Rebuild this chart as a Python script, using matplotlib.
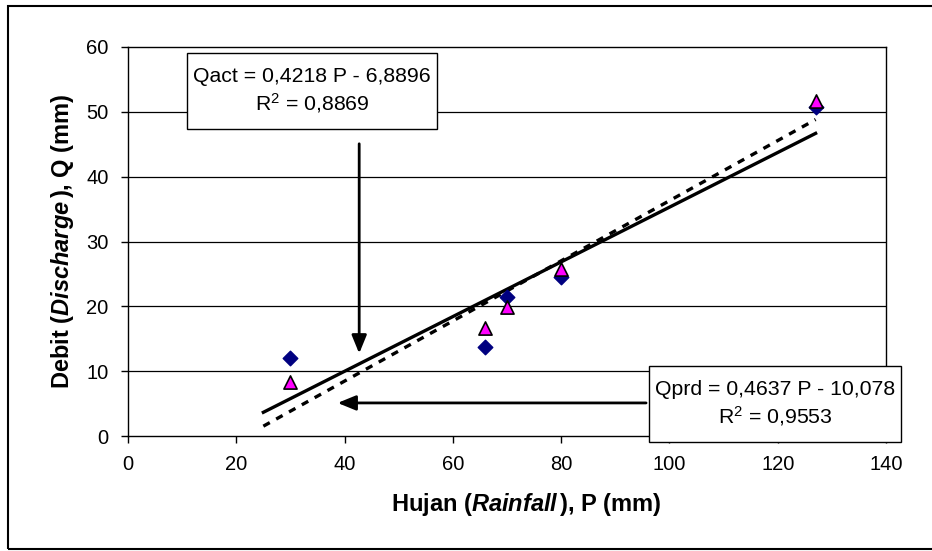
import numpy as np
import matplotlib
matplotlib.use("Agg")
import matplotlib.pyplot as plt
from matplotlib.patches import Rectangle

plt.rcParams['font.family'] = ['Liberation Sans', 'DejaVu Sans']
plt.rcParams['mathtext.fontset'] = 'custom'
plt.rcParams['mathtext.rm'] = 'Liberation Sans'
plt.rcParams['mathtext.it'] = 'Liberation Sans:italic'
plt.rcParams['mathtext.bf'] = 'Liberation Sans:bold'
plt.rcParams['mathtext.bfit'] = 'Liberation Sans:italic:bold'

# rainfall P (mm) and discharge Q (mm)
rain = [30, 66, 70, 80, 127]
q_act = [12.0, 13.8, 21.5, 24.6, 50.8]
q_prd = [8.3, 16.6, 19.9, 25.8, 51.7]

# trendlines (from the chart labels)
act_slope, act_icept = 0.4218, -6.8896
prd_slope, prd_icept = 0.4637, -10.078
line_x = [25, 127]

xticks = [0, 20, 40, 60, 80, 100, 120, 140]
yticks = [0, 10, 20, 30, 40, 50, 60]

fig = plt.figure(figsize=(9.32, 5.51), dpi=100)
ax = fig.add_axes([128/932, 1 - 436/551, 758/932, 389/551])

# outer chart frame
fig.patches.append(Rectangle((8/932, 2/551), 1.0, 543/551, transform=fig.transFigure,
                             fill=False, edgecolor='black', linewidth=1.5))

for y in yticks[1:-1]:
    ax.axhline(y, color='black', linewidth=0.9, zorder=1)

lx = np.array(line_x, dtype=float)
ax.plot(lx, act_slope*lx + act_icept, color='black', linewidth=2.4, zorder=3)
ax.plot(lx, prd_slope*lx + prd_icept, color='black', linewidth=2.4,
        dashes=(2.2, 2.2), zorder=3)

ax.scatter(rain, q_act, marker='D', s=55, color='#000080', zorder=4)
ax.scatter(rain, q_prd, marker='^', s=90, color='#FF00FF', edgecolor='black',
           linewidth=1.2, zorder=5)

ax.set_xlim(0, 140)
ax.set_ylim(0, 60)
ax.set_xticks(xticks)
ax.set_yticks(yticks)
ax.tick_params(labelsize=14.5, direction='out', length=5, width=1, pad=9)
for s in ax.spines.values():
    s.set_linewidth(1.0)

ax.text(-0.086, 0.5, r'$\mathbf{Debit\ (}\mathbfit{Discharge}\mathbf{\,){,}\ Q\ (mm)}$',
        transform=ax.transAxes, rotation=90, ha='center', va='center', fontsize=17)
ax.text(0.525, -0.175, r'$\mathbf{Hujan\ (}\mathbfit{Rainfall}\mathbf{\,){,}\ P\ (mm)}$',
        transform=ax.transAxes, ha='center', va='center', fontsize=17)

# trendline label boxes
ax.add_patch(Rectangle((10.9, 47.35), 46.2, 11.7, facecolor='white', edgecolor='black',
                       linewidth=1, zorder=6, clip_on=False))
ax.text(34.0, 53.2, 'Qact = 0,4218 P - 6,8896\nR$^2$ = 0,8869', ha='center', va='center',
        fontsize=15.3, zorder=7, linespacing=1.3)
ax.add_patch(Rectangle((96.2, -0.93), 46.6, 11.75, facecolor='white', edgecolor='black',
                       linewidth=1, zorder=6, clip_on=False))
ax.text(119.5, 4.95, 'Qprd = 0,4637 P - 10,078\nR$^2$ = 0,9553', ha='center', va='center',
        fontsize=15.3, zorder=7, linespacing=1.3, clip_on=False)

arrow = dict(arrowstyle='-|>,head_length=1.1,head_width=0.45', color='black', linewidth=2)
ax.annotate('', xy=(42.7, 12.3), xytext=(42.7, 45.5), arrowprops=arrow, zorder=6)
ax.annotate('', xy=(38.2, 5.1), xytext=(96.2, 5.1), arrowprops=arrow, zorder=6)

fig.savefig('out.png', dpi=100)
